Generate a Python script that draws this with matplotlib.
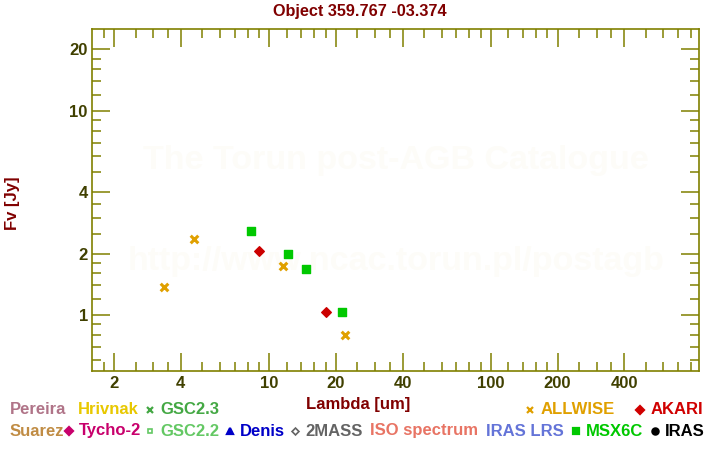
import matplotlib
matplotlib.use("Agg")
import matplotlib.pyplot as plt
from matplotlib.ticker import FixedLocator, NullFormatter, FixedFormatter

plt.rcParams['font.family'] = ['Liberation Sans', 'DejaVu Sans']
plt.rcParams['font.weight'] = 'bold'

title = "Object 359.767 -03.374"

# photometry (wavelength in um, flux in Jy)
allwise_wl = [3.35, 4.6, 11.6, 22.1]
allwise_fl = [1.37, 2.37, 1.73, 0.80]
akari_wl = [9.0, 18.0]
akari_fl = [2.07, 1.03]
msx_wl = [8.28, 12.13, 14.65, 21.3]
msx_fl = [2.57, 2.0, 1.69, 1.03]

x_major = [2, 4, 10, 20, 40, 100, 200, 400]
x_minor = [1.8, 2.5, 3, 3.5, 5, 6, 7, 8, 9, 12, 14, 16, 18, 25, 30, 35,
           50, 60, 70, 80, 90, 120, 140, 160, 180, 250, 300, 350,
           500, 600, 700, 800]
y_major = [1, 2, 4, 10, 20]
y_minor = [0.6, 0.7, 0.8, 0.9, 1.2, 1.4, 1.6, 1.8, 2.5, 3, 3.5,
           5, 6, 7, 8, 9, 12, 14, 16, 18]

# legend rows: (label, colour, marker)
legend_row1 = [("Pereira", "#b07488", None), ("Hrivnak", "#e8c800", None),
               ("GSC2.3", "#44a844", "x")]
legend_row1_right = [("ALLWISE", "#e0a000", "x"), ("AKARI", "#d00000", "D")]
legend_row2 = [("Suarez", "#c08c44", None), ("Tycho-2", "#c8006c", "D"),
               ("GSC2.2", "#64c864", "s_open"), ("Denis", "#0000c8", "^"),
               ("2MASS", "#646464", "D_open"), ("ISO spectrum", "#e87464", None),
               ("IRAS LRS", "#6474d8", None), ("MSX6C", "#00c800", "s"),
               ("IRAS", "#000000", "o")]

olive = "#808000"
ticklab = "#404000"
darkred = "#800000"

fig = plt.figure(figsize=(7.2, 4.5), dpi=100)
ax = fig.add_axes([0.1278, 0.1762, 0.8435, 0.7587])
ax.set_xscale('log')
ax.set_yscale('log')
ax.set_xlim(1.59, 872)
ax.set_ylim(0.534, 25.1)

# faint watermark
ax.text(0.5, 0.615, "The Torun post-AGB Catalogue", transform=ax.transAxes,
        ha='center', va='center', fontsize=24.5, color='#fdfcf8', zorder=0)
ax.text(0.5, 0.32, "http://www.ncac.torun.pl/postagb", transform=ax.transAxes,
        ha='center', va='center', fontsize=24.5, color='#fdfcf8', zorder=0)

ax.scatter(allwise_wl, allwise_fl, marker='x', s=30, linewidths=2.2,
           color='#e0a000', zorder=3)
ax.scatter(akari_wl, akari_fl, marker='D', s=24, color='#cc0000', zorder=3)
ax.scatter(msx_wl, msx_fl, marker='s', s=26, color='#00c800', zorder=3)

for sp in ax.spines.values():
    sp.set_color(olive)
    sp.set_linewidth(1.2)

ax.xaxis.set_major_locator(FixedLocator(x_major))
ax.xaxis.set_major_formatter(FixedFormatter([str(v) for v in x_major]))
ax.xaxis.set_minor_locator(FixedLocator(x_minor))
ax.xaxis.set_minor_formatter(NullFormatter())
ax.yaxis.set_major_locator(FixedLocator(y_major))
ax.yaxis.set_major_formatter(FixedFormatter([str(v) for v in y_major]))
ax.yaxis.set_minor_locator(FixedLocator(y_minor))
ax.yaxis.set_minor_formatter(NullFormatter())

ax.tick_params(which='both', direction='in', top=True, right=True,
               color=olive, width=1.1, labelcolor=ticklab, labelsize=12)
ax.tick_params(which='major', length=13)
ax.tick_params(which='minor', length=6.5)
ax.tick_params(axis='x', pad=4)
ax.tick_params(axis='y', pad=3)

fig.text(0.5, 0.974, title, ha='center', va='center', fontsize=11.7, color=darkred)
fig.text(0.497, 0.1, "Lambda [um]", ha='center', va='center', fontsize=12, color=darkred)
fig.text(0.017, 0.548, "Fv [Jy]", ha='center', va='center', rotation=90,
         fontsize=12, color=darkred)

# legend drawn as text
def put_entry(x, y, label, color, marker):
    if marker is not None:
        if marker.endswith("_open"):
            fig.lines.append(plt.Line2D([x], [y], marker=marker[0], markersize=3.5,
                                        markerfacecolor='white', markeredgecolor=color,
                                        markeredgewidth=1.2, transform=fig.transFigure))
        else:
            ms = 4.5 if marker != 'x' else 5
            fig.lines.append(plt.Line2D([x], [y], marker=marker, markersize=ms,
                                        color=color, markeredgewidth=1.6,
                                        transform=fig.transFigure))
        x += 0.014
    fig.text(x, y, label, ha='left', va='center', fontsize=12, color=color)

row1_x = [10, 78, 150]
row1r_x = [530, 640]
row2_x = [10, 69, 150, 230, 295, 370, 486, 576, 655]
y1 = 1 - 410 / 450
y2 = 1 - 431 / 450
for (lab, col, mk), px in zip(legend_row1, row1_x):
    put_entry(px / 720, y1, lab, col, mk)
for (lab, col, mk), px in zip(legend_row1_right, row1r_x):
    put_entry(px / 720, y1, lab, col, mk)
for (lab, col, mk), px in zip(legend_row2, row2_x):
    put_entry(px / 720, y2, lab, col, mk)

fig.savefig("out.png", dpi=100)
